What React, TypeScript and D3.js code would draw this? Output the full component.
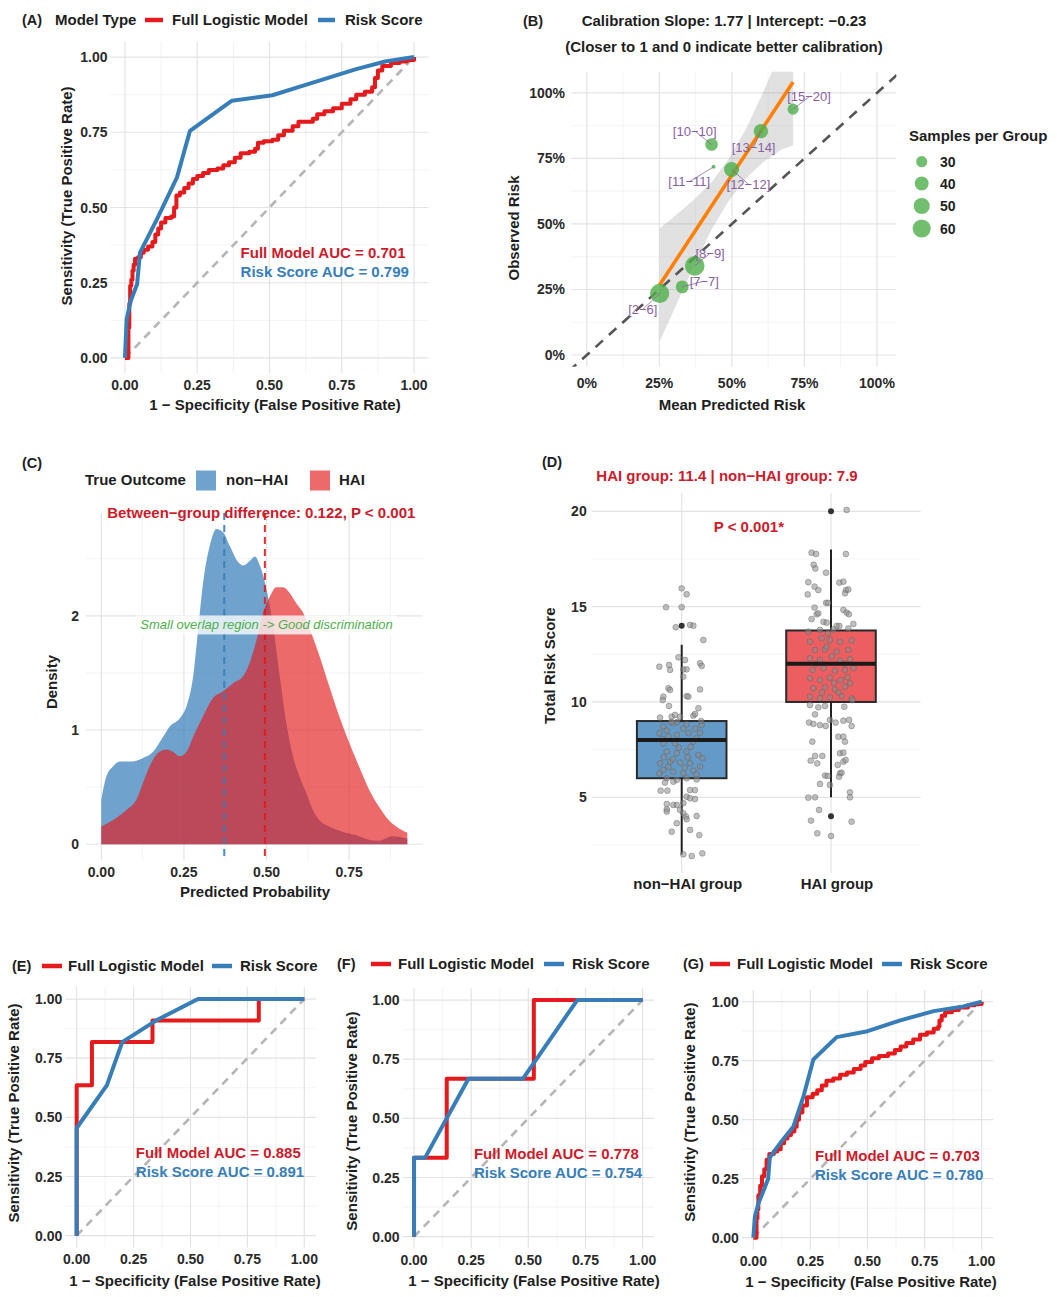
import React, { useEffect, useRef } from "react";
import * as d3 from "d3";

const FONT = "'Liberation Sans', Arial, Helvetica, sans-serif";
const RED = "#E41A1C";
const BLUE = "#377EB8";
const RED_TXT = "#CB1B2B";
const GREEN = "#4DAF4A";
const ORANGE = "#FF7F00";
const PURPLE = "#87619F";
const INK = "#1e1e1e";

// ---------- ROC axes ----------
const rocMajor = [0, 0.25, 0.5, 0.75, 1];
const rocMinor = [0.125, 0.375, 0.625, 0.875];
const rocTickLabels = ["0.00", "0.25", "0.50", "0.75", "1.00"];
const modelNames = ["Full Logistic Model", "Risk Score"];

// ---------- Panel A: training ROC ----------
const rocA_full: [number, number][] = [
  [0, 0], [0.012, 0], [0.012, 0.1], [0.015, 0.18], [0.018, 0.24], [0.022, 0.26], [0.026, 0.29], [0.03, 0.31],
  [0.035, 0.33], [0.045, 0.335], [0.055, 0.35], [0.065, 0.36], [0.08, 0.37], [0.095, 0.385], [0.105, 0.41],
  [0.115, 0.43], [0.125, 0.45], [0.14, 0.465], [0.16, 0.47], [0.17, 0.5], [0.178, 0.54], [0.19, 0.55],
  [0.205, 0.565], [0.22, 0.58], [0.235, 0.595], [0.25, 0.605], [0.27, 0.615], [0.29, 0.625], [0.32, 0.63],
  [0.34, 0.64], [0.36, 0.65], [0.38, 0.665], [0.4, 0.68], [0.43, 0.685], [0.45, 0.695], [0.46, 0.715],
  [0.48, 0.72], [0.51, 0.725], [0.53, 0.74], [0.55, 0.755], [0.58, 0.77], [0.6, 0.785], [0.63, 0.785],
  [0.65, 0.795], [0.665, 0.81], [0.69, 0.82], [0.72, 0.83], [0.75, 0.845], [0.78, 0.86], [0.8, 0.875],
  [0.83, 0.885], [0.855, 0.9], [0.865, 0.93], [0.875, 0.955], [0.89, 0.97], [0.92, 0.98], [0.95, 0.985],
  [0.975, 0.99], [1, 1],
];
const rocA_score: [number, number][] = [
  [0, 0], [0.006, 0.13], [0.02, 0.19], [0.042, 0.245], [0.052, 0.35], [0.11, 0.46], [0.18, 0.6],
  [0.225, 0.755], [0.37, 0.855], [0.51, 0.873], [0.6, 0.9], [0.7, 0.93], [0.8, 0.96], [0.9, 0.985], [1, 1],
];
const aucA = ["Full Model AUC = 0.701", "Risk Score AUC = 0.799"];

// ---------- Panel E ----------
const rocE_full: [number, number][] = [
  [0, 0], [0, 0.636], [0.067, 0.636], [0.067, 0.818], [0.333, 0.818], [0.333, 0.909], [0.8, 0.909], [0.8, 1], [1, 1],
];
const rocE_score: [number, number][] = [
  [0, 0], [0, 0.455], [0.133, 0.636], [0.2, 0.818], [0.35, 0.91], [0.533, 1], [1, 1],
];
const aucE = ["Full Model AUC = 0.885", "Risk Score AUC = 0.891"];

// ---------- Panel F ----------
const rocF_full: [number, number][] = [
  [0, 0], [0, 0.333], [0.143, 0.333], [0.143, 0.667], [0.524, 0.667], [0.524, 1], [1, 1],
];
const rocF_score: [number, number][] = [
  [0, 0], [0, 0.333], [0.048, 0.333], [0.238, 0.667], [0.476, 0.667], [0.714, 1], [1, 1],
];
const aucF = ["Full Model AUC = 0.778", "Risk Score AUC = 0.754"];

// ---------- Panel G ----------
const rocG_full: [number, number][] = [
  [0, 0], [0.012, 0], [0.014, 0.08], [0.018, 0.12], [0.022, 0.18], [0.03, 0.22], [0.038, 0.26], [0.048, 0.29],
  [0.058, 0.33], [0.07, 0.355], [0.09, 0.365], [0.105, 0.375], [0.12, 0.4], [0.135, 0.42], [0.15, 0.435],
  [0.165, 0.45], [0.18, 0.47], [0.19, 0.5], [0.2, 0.53], [0.215, 0.56], [0.235, 0.595], [0.26, 0.61],
  [0.28, 0.625], [0.3, 0.645], [0.32, 0.665], [0.35, 0.675], [0.38, 0.69], [0.41, 0.7], [0.44, 0.715],
  [0.47, 0.73], [0.49, 0.745], [0.52, 0.76], [0.55, 0.77], [0.59, 0.78], [0.62, 0.795], [0.645, 0.81],
  [0.67, 0.825], [0.7, 0.84], [0.73, 0.86], [0.76, 0.87], [0.79, 0.885], [0.81, 0.895], [0.815, 0.92],
  [0.825, 0.94], [0.84, 0.955], [0.87, 0.965], [0.9, 0.975], [0.94, 0.985], [0.97, 0.99], [1, 1],
];
const rocG_score: [number, number][] = [
  [0, 0], [0.007, 0.09], [0.022, 0.145], [0.045, 0.2], [0.065, 0.25], [0.072, 0.34], [0.117, 0.4],
  [0.175, 0.47], [0.22, 0.6], [0.263, 0.755], [0.365, 0.85], [0.5, 0.875], [0.64, 0.92], [0.79, 0.96],
  [0.92, 0.98], [1, 1],
];
const aucG = ["Full Model AUC = 0.703", "Risk Score AUC = 0.780"];

// ---------- Panel B: calibration ----------
const calibGroups = ["[2−6]", "[7−7]", "[8−9]", "[10−10]", "[11−11]", "[12−12]", "[13−14]", "[15−20]"];
const calibPred = [0.251, 0.329, 0.372, 0.43, 0.437, 0.499, 0.6, 0.711];
const calibObs = [0.235, 0.26, 0.34, 0.803, 0.718, 0.708, 0.854, 0.938];
const calibN = [66, 36, 68, 35, 14, 45, 42, 30];
const calibLabelX = [0.193, 0.405, 0.425, 0.372, 0.353, 0.557, 0.575, 0.766];
const calibLabelY = [0.174, 0.282, 0.388, 0.855, 0.661, 0.652, 0.794, 0.985];
const fitX = [0.251, 0.711];
const fitY = [0.267, 1.042];
const ribbonX = [0.251, 0.31, 0.37, 0.43, 0.49, 0.55, 0.61, 0.67, 0.711];
const ribbonLow = [0.051, 0.196, 0.343, 0.479, 0.59, 0.676, 0.737, 0.783, 0.8];
const ribbonHigh = [0.483, 0.536, 0.593, 0.659, 0.75, 0.866, 1.007, 1.163, 1.28];
const pctTicks = [0, 0.25, 0.5, 0.75, 1];
const pctLabels = ["0%", "25%", "50%", "75%", "100%"];
const sizeBreaks = [30, 40, 50, 60];

// ---------- Panel C: density ----------
const nonHaiDensity: [number, number][] = [
  [0, 0.39], [0.015, 0.59], [0.035, 0.68], [0.056, 0.725], [0.096, 0.725], [0.126, 0.755], [0.157, 0.81],
  [0.187, 0.94], [0.207, 1.03], [0.237, 1.1], [0.258, 1.21], [0.278, 1.47], [0.293, 1.88], [0.308, 2.29],
  [0.328, 2.61], [0.348, 2.76], [0.369, 2.73], [0.389, 2.61], [0.409, 2.49], [0.429, 2.44], [0.449, 2.48],
  [0.465, 2.52], [0.48, 2.44], [0.5, 2.23], [0.52, 1.91], [0.54, 1.47], [0.56, 1.06], [0.58, 0.77],
  [0.6, 0.59], [0.62, 0.45], [0.64, 0.3], [0.66, 0.21], [0.69, 0.155], [0.73, 0.11], [0.77, 0.08],
  [0.81, 0.04], [0.84, 0.03], [0.88, 0.07], [0.926, 0.05],
];
const haiDensity: [number, number][] = [
  [0, 0.155], [0.035, 0.21], [0.076, 0.3], [0.106, 0.39], [0.126, 0.535], [0.146, 0.68], [0.172, 0.8],
  [0.197, 0.83], [0.217, 0.81], [0.237, 0.77], [0.258, 0.81], [0.278, 0.94], [0.308, 1.12], [0.338, 1.28],
  [0.369, 1.34], [0.399, 1.41], [0.429, 1.47], [0.449, 1.59], [0.47, 1.79], [0.49, 2.03], [0.51, 2.17],
  [0.53, 2.25], [0.55, 2.25], [0.57, 2.2], [0.59, 2.11], [0.61, 2.03], [0.63, 1.89], [0.66, 1.65],
  [0.69, 1.38], [0.72, 1.12], [0.75, 0.89], [0.78, 0.68], [0.81, 0.48], [0.84, 0.33], [0.87, 0.21],
  [0.9, 0.14], [0.926, 0.1],
];
const outcomeNames = ["non−HAI", "HAI"];
const groupMeans = [0.372, 0.495];
const densXTicks = [0, 0.25, 0.5, 0.75];
const densXLabels = ["0.00", "0.25", "0.50", "0.75"];
const densYTicks = [0, 1, 2];

// ---------- Panel D: box plot ----------
const boxGroups = ["non−HAI group", "HAI group"];
const boxQ1 = [6, 10];
const boxMedian = [8, 12];
const boxQ3 = [9, 13.75];
const whiskerLow = [2, 5];
const whiskerHigh = [13, 18];
const boxOutliers = [[14], [20, 4]];
const scoreTicks = [5, 10, 15, 20];
// [x jitter offset (category units), score]
const nonHaiPoints: [number, number][] = [
  [0, 15.96], [0.033, 15.65], [-0.105, 14.97], [0, 14.97], [-0.04, 13.92], [0.056, 14.04], [0.078, 14.0],
  [0.145, 13.25], [-0.15, 11.85], [-0.085, 11.94], [-0.078, 11.68], [-0.022, 12.34], [0.022, 12.2],
  [0.011, 11.71], [0.033, 11.71], [0.123, 12.03], [0.134, 11.89], [0.011, 11.33], [-0.089, 10.72],
  [-0.078, 10.63], [-0.123, 10.28], [-0.127, 10.1], [0.033, 10.31], [0.045, 10.28], [0.123, 10.66],
  [-0.085, 9.79], [0.112, 9.67], [-0.145, 9.18], [-0.067, 9.23], [-0.045, 9.32], [-0.011, 9.23], [0.078, 9.28],
  [0.089, 9.37], [-0.123, 8.71], [-0.056, 8.88], [0.033, 8.83], [0.134, 8.79], [-0.15, 8.36], [-0.089, 8.18],
  [-0.033, 8.27], [0.045, 8.36], [0.123, 8.39], [-0.123, 7.83], [-0.045, 7.83], [0.078, 7.92], [-0.1, 7.4],
  [-0.033, 7.31], [0.033, 7.4], [0.112, 7.22], [-0.145, 6.78], [-0.078, 6.87], [-0.011, 6.82], [0.056, 6.78],
  [0.123, 6.61], [-0.123, 6.43], [-0.056, 6.35], [0.011, 6.26], [0.078, 6.4], [-0.1, 6.0], [-0.033, 5.91],
  [0.033, 6.0], [0.1, 5.94], [-0.112, 5.77], [-0.056, 5.82], [-0.141, 5.35], [-0.096, 5.35], [0.056, 5.38],
  [0.089, 5.38], [0.033, 5.03], [0.056, 4.95], [0.089, 4.91], [-0.1, 4.65], [-0.056, 4.6], [-0.033, 4.6],
  [0.011, 4.69], [-0.1, 4.37], [-0.1, 4.25], [-0.011, 4.34], [0.011, 4.16], [0.029, 3.99], [0.033, 3.85],
  [0.1, 4.02], [-0.033, 3.64], [-0.067, 3.2], [0.056, 3.29], [0.118, 3.02], [0.011, 2.01], [0.067, 1.92],
  [0.138, 2.06], [-0.07, 8.95], [0.09, 8.6], [-0.13, 8.05], [0.01, 8.6], [0.1, 8.1], [-0.02, 7.6],
  [0.06, 7.65], [-0.12, 7.1], [0.14, 7.05], [-0.06, 7.0], [0.02, 6.55], [-0.09, 6.6], [0.1, 6.2],
  [-0.15, 6.25], [0.04, 7.1], [-0.03, 8.95], [0.13, 9.0], [-0.1, 8.5],
];
const haiPoints: [number, number][] = [
  [0.105, 20.07], [-0.13, 17.83], [-0.1, 17.76], [0.1, 17.76], [-0.116, 17.2], [-0.105, 17.0], [-0.033, 16.78],
  [-0.152, 16.28], [0.056, 16.26], [0.083, 16.31], [-0.11, 16.05], [-0.085, 15.87], [-0.156, 15.64],
  [0.1, 15.87], [0.094, 15.7], [0.116, 15.9], [-0.033, 15.2], [-0.02, 15.2], [-0.11, 14.95], [-0.096, 14.6],
  [-0.085, 14.65], [0.083, 14.83], [0.105, 14.69], [0.12, 14.6], [-0.13, 14.35], [-0.05, 14.2],
  [-0.029, 14.16], [0.038, 13.99], [0.056, 13.99], [0.15, 14.09], [0.116, 13.86], [-0.152, 13.69],
  [-0.074, 13.78], [0.016, 13.81], [-0.141, 13.16], [-0.062, 13.34], [-0.007, 13.25], [0.06, 13.16],
  [0.138, 13.22], [-0.107, 12.73], [-0.04, 12.76], [0.038, 12.64], [0.116, 12.73], [-0.141, 12.29],
  [-0.074, 12.2], [0.004, 12.38], [0.06, 12.17], [0.127, 12.24], [-0.123, 11.68], [-0.051, 11.77],
  [0.027, 11.64], [0.094, 11.68], [0.15, 11.77], [-0.141, 11.24], [-0.074, 11.15], [-0.007, 11.28],
  [0.065, 11.15], [0.127, 10.98], [-0.118, 10.72], [-0.04, 10.77], [0.027, 10.66], [0.094, 10.8],
  [-0.141, 10.28], [-0.074, 10.19], [-0.007, 10.24], [0.071, 10.31], [0.138, 10.19], [-0.02, 13.6],
  [0.09, 12.0], [-0.1, 12.0], [0.02, 11.0], [-0.03, 12.9], [0.11, 11.3], [-0.06, 10.5], [0.05, 10.5],
  [-0.141, 9.84], [-0.085, 9.72], [-0.04, 9.79], [0.089, 9.75], [0.143, 10.1], [-0.107, 9.35],
  [-0.147, 8.92], [-0.118, 8.85], [-0.074, 8.79], [-0.036, 8.74], [-0.007, 9.06], [0.031, 8.92],
  [0.083, 9.02], [0.121, 9.06], [0.138, 8.74], [-0.125, 7.92], [0.049, 8.18], [0.083, 8.18], [0.094, 7.92],
  [-0.107, 7.17], [-0.058, 7.17], [-0.136, 6.92], [-0.092, 6.78], [0.06, 7.31], [0.083, 7.34],
  [0.083, 6.87], [0.098, 6.96], [0.045, 6.7], [0.06, 6.26], [0.071, 6.29], [-0.04, 6.14], [-0.022, 6.12],
  [0.054, 6.08], [-0.074, 5.7], [-0.007, 5.65], [-0.152, 4.98], [-0.107, 5.0], [0.127, 5.26], [0.127, 5.0],
  [-0.08, 4.34], [-0.134, 3.78], [0.138, 3.72], [-0.092, 3.11], [0, 2.97],
];

type G = d3.Selection<SVGGElement, unknown, null, undefined>;
type TOpt = { size?: number; weight?: string; fill?: string; anchor?: string; rotate?: number; italic?: boolean };

function addText(g: G, x: number, y: number, s: string, o: TOpt = {}) {
  const t = g.append("text").attr("x", x).attr("y", y).text(s)
    .attr("font-family", FONT)
    .attr("font-size", o.size ?? 14)
    .attr("font-weight", o.weight ?? "bold")
    .attr("fill", o.fill ?? INK)
    .attr("text-anchor", o.anchor ?? "start");
  if (o.italic) t.attr("font-style", "italic");
  if (o.rotate) t.attr("transform", `rotate(${o.rotate},${x},${y})`);
  return t;
}

function drawGrid(g: G, x: any, y: any, xMajor: number[], xMinor: number[], yMajor: number[], yMinor: number[]) {
  const [xa, xb] = x.range();
  const [ya, yb] = y.range();
  const minor = g.append("g").attr("stroke", "#f0f0f0").attr("stroke-width", 0.8);
  xMinor.forEach(v => minor.append("line").attr("x1", x(v)).attr("x2", x(v)).attr("y1", ya).attr("y2", yb));
  yMinor.forEach(v => minor.append("line").attr("x1", xa).attr("x2", xb).attr("y1", y(v)).attr("y2", y(v)));
  const major = g.append("g").attr("stroke", "#e3e3e3").attr("stroke-width", 1.2);
  xMajor.forEach(v => major.append("line").attr("x1", x(v)).attr("x2", x(v)).attr("y1", ya).attr("y2", yb));
  yMajor.forEach(v => major.append("line").attr("x1", xa).attr("x2", xb).attr("y1", y(v)).attr("y2", y(v)));
}

interface RocCfg {
  tag: string; tagX: number; legendY: number; modelTypeX?: number;
  redKey: [number, number]; redText: number; blueKey: [number, number]; blueText: number;
  left: number; right: number; top: number; bottom: number;
  full: [number, number][]; score: [number, number][]; fullStep: boolean;
  auc: string[]; aucAt: [number, number]; aucGap: number;
  yTitleX: number; yTitleY: number; xTitleX: number; xTitleY: number;
}

function drawRoc(root: G, c: RocCfg) {
  const g = root.append("g");
  const x = d3.scaleLinear().domain([-0.05, 1.05]).range([c.left, c.right]);
  const y = d3.scaleLinear().domain([-0.05, 1.05]).range([c.bottom, c.top]);
  drawGrid(g, x, y, rocMajor, rocMinor, rocMajor, rocMinor);

  g.append("line").attr("x1", x(0)).attr("y1", y(0)).attr("x2", x(1)).attr("y2", y(1))
    .attr("stroke", "#b5b5b5").attr("stroke-width", 2.6).attr("stroke-dasharray", "8 6");

  const redLine = d3.line<[number, number]>().x(d => x(d[0])).y(d => y(d[1]))
    .curve(c.fullStep ? d3.curveStepAfter : d3.curveLinear);
  const blueLine = d3.line<[number, number]>().x(d => x(d[0])).y(d => y(d[1]));
  g.append("path").attr("d", redLine(c.full)).attr("fill", "none").attr("stroke", RED)
    .attr("stroke-width", 4).attr("stroke-linejoin", "round");
  g.append("path").attr("d", blueLine(c.score)).attr("fill", "none").attr("stroke", BLUE)
    .attr("stroke-width", 4).attr("stroke-linejoin", "round");

  rocMajor.forEach((v, i) => {
    addText(g, x(v), c.bottom + 16.5, rocTickLabels[i], { anchor: "middle", fill: "#2a2a2a" });
    addText(g, c.left - 3, y(v) + 5, rocTickLabels[i], { anchor: "end", fill: "#2a2a2a" });
  });
  addText(g, c.xTitleX, c.xTitleY, "1 − Specificity (False Positive Rate)", { anchor: "middle", size: 15 });
  addText(g, c.yTitleX + 5.4, c.yTitleY, "Sensitivity (True Positive Rate)", { anchor: "middle", size: 15, rotate: -90 });

  // AUC annotation
  const ax = x(c.aucAt[0]);
  const ay = y(c.aucAt[1]) + 5.4;
  addText(g, ax, ay, c.auc[0], { size: 15, fill: RED_TXT });
  addText(g, ax, ay + c.aucGap, c.auc[1], { size: 15, fill: BLUE });

  // tag + legend
  const ly = c.legendY + 5.3;
  addText(g, c.tagX, ly, c.tag, { size: 14.5 });
  if (c.modelTypeX !== undefined) addText(g, c.modelTypeX, ly, "Model Type", { size: 15 });
  g.append("line").attr("x1", c.redKey[0]).attr("x2", c.redKey[1]).attr("y1", c.legendY).attr("y2", c.legendY)
    .attr("stroke", RED).attr("stroke-width", 4.5);
  addText(g, c.redText, ly, modelNames[0], { size: 15 });
  g.append("line").attr("x1", c.blueKey[0]).attr("x2", c.blueKey[1]).attr("y1", c.legendY).attr("y2", c.legendY)
    .attr("stroke", BLUE).attr("stroke-width", 4.5);
  addText(g, c.blueText, ly, modelNames[1], { size: 15 });
}

function drawCalibration(root: G) {
  const g = root.append("g");
  const left = 571.4, right = 896.4, top = 71.7, bottom = 366.8;
  const x = d3.scaleLinear().domain([-0.053, 1.067]).range([left, right]);
  const y = d3.scaleLinear().domain([-0.045, 1.081]).range([bottom, top]);
  const minor = [0.125, 0.375, 0.625, 0.875];
  drawGrid(g, x, y, pctTicks, minor, pctTicks, minor);

  g.append("clipPath").attr("id", "clipB").append("rect")
    .attr("x", left).attr("y", top).attr("width", right - left).attr("height", bottom - top);
  const pg = g.append("g").attr("clip-path", "url(#clipB)");

  const band = d3.area<number>().x(d => x(d)).y0((_, i) => y(ribbonLow[i])).y1((_, i) => y(ribbonHigh[i]));
  pg.append("path").attr("d", band(ribbonX)).attr("fill", "#9a9a9a").attr("fill-opacity", 0.3);

  pg.append("line").attr("x1", x(-0.2)).attr("y1", y(-0.2)).attr("x2", x(1.3)).attr("y2", y(1.3))
    .attr("stroke", "#555").attr("stroke-width", 2.6).attr("stroke-dasharray", "10 8");

  pg.append("line").attr("x1", x(fitX[0])).attr("y1", y(fitY[0])).attr("x2", x(fitX[1])).attr("y2", y(fitY[1]))
    .attr("stroke", ORANGE).attr("stroke-width", 3.6);

  const area = d3.scaleLinear().domain([14, 68]).range([4, 95.6]);
  const r = (n: number) => Math.sqrt(area(n));

  calibGroups.forEach((_, i) => {
    pg.append("circle").attr("cx", x(calibPred[i])).attr("cy", y(calibObs[i])).attr("r", r(calibN[i]))
      .attr("fill", GREEN).attr("fill-opacity", 0.8);
  });
  calibGroups.forEach((lab, i) => {
    g.append("line").attr("x1", x(calibLabelX[i])).attr("y1", y(calibLabelY[i]))
      .attr("x2", x(calibPred[i])).attr("y2", y(calibObs[i]))
      .attr("stroke", PURPLE).attr("stroke-opacity", 0.75).attr("stroke-width", 1);
    addText(g, x(calibLabelX[i]), y(calibLabelY[i]) + 4.6, lab, { size: 13, weight: "normal", fill: PURPLE, anchor: "middle" });
  });

  pctTicks.forEach((v, i) => {
    addText(g, x(v), 388, pctLabels[i], { anchor: "middle", fill: "#2a2a2a" });
    addText(g, 565, y(v) + 5, pctLabels[i], { anchor: "end", fill: "#2a2a2a" });
  });
  addText(g, 732, 409.5, "Mean Predicted Risk", { anchor: "middle", size: 15 });
  addText(g, 514 + 5.4, 228, "Observed Risk", { anchor: "middle", size: 15, rotate: -90 });

  addText(g, 523, 25.5, "(B)", { size: 14.5 });
  addText(g, 724, 25.5, "Calibration Slope: 1.77 | Intercept: −0.23", { anchor: "middle", size: 15 });
  addText(g, 724, 51.5, "(Closer to 1 and 0 indicate better calibration)", { anchor: "middle", size: 15 });

  // size legend
  addText(g, 909, 140.5, "Samples per Group", { size: 15 });
  const legY = [161.7, 183.5, 206, 228.5];
  sizeBreaks.forEach((n, i) => {
    g.append("circle").attr("cx", 921.7).attr("cy", legY[i]).attr("r", r(n)).attr("fill", GREEN).attr("fill-opacity", 0.8);
    addText(g, 940, legY[i] + 5, String(n), { size: 14 });
  });
}

function drawDensity(root: G) {
  const g = root.append("g");
  const left = 86, right = 422.7, top = 513, bottom = 860;
  const x = d3.scaleLinear().domain([-0.0463, 0.9725]).range([left, right]);
  const y = d3.scaleLinear().domain([-0.138, 2.9]).range([bottom, top]);
  drawGrid(g, x, y, densXTicks, [0.125, 0.375, 0.625, 0.875], densYTicks, [0.5, 1.5, 2.5]);

  const area = d3.area<[number, number]>().x(d => x(d[0])).y0(y(0)).y1(d => y(d[1])).curve(d3.curveMonotoneX);
  g.append("path").attr("d", area(nonHaiDensity)).attr("fill", BLUE).attr("fill-opacity", 0.72);
  g.append("path").attr("d", area(haiDensity)).attr("fill", RED).attr("fill-opacity", 0.65);

  [BLUE, RED].forEach((col, i) => {
    g.append("line").attr("x1", x(groupMeans[i])).attr("x2", x(groupMeans[i])).attr("y1", top).attr("y2", bottom)
      .attr("stroke", col).attr("stroke-width", 2).attr("stroke-dasharray", "7 5").attr("stroke-opacity", 0.9);
  });

  // annotation with light label box
  const lg = g.append("g");
  const box = lg.append("rect");
  const t = addText(lg, x(0.5), y(1.92) + 4.5, "Small overlap region -> Good discrimination",
    { size: 13, weight: "normal", italic: true, fill: GREEN, anchor: "middle" });
  const bb = (t.node() as SVGTextElement).getBBox();
  box.attr("x", bb.x - 4).attr("y", bb.y - 2).attr("width", bb.width + 8).attr("height", bb.height + 4)
    .attr("fill", "#fff").attr("fill-opacity", 0.78);

  addText(g, x(0.484), y(2.9) + 5.4, "Between−group difference: 0.122, P < 0.001", { anchor: "middle", size: 15, fill: RED_TXT });

  densXTicks.forEach((v, i) => addText(g, x(v), 877, densXLabels[i], { anchor: "middle", fill: "#2a2a2a" }));
  densYTicks.forEach(v => addText(g, 79, y(v) + 5, String(v), { anchor: "end", fill: "#2a2a2a" }));
  addText(g, 255, 897, "Predicted Probability", { anchor: "middle", size: 15 });
  addText(g, 51.7 + 5.4, 682, "Density", { anchor: "middle", size: 15, rotate: -90 });

  addText(g, 22, 467.5, "(C)", { size: 14.5 });
  addText(g, 85, 485.4, "True Outcome", { size: 15 });
  g.append("rect").attr("x", 196).attr("y", 470.5).attr("width", 20).attr("height", 20).attr("fill", BLUE).attr("fill-opacity", 0.72);
  addText(g, 226, 485.4, outcomeNames[0], { size: 15 });
  g.append("rect").attr("x", 310).attr("y", 470.5).attr("width", 20).attr("height", 20).attr("fill", RED).attr("fill-opacity", 0.65);
  addText(g, 339, 485.4, outcomeNames[1], { size: 15 });
}

function drawBoxes(root: G) {
  const g = root.append("g");
  const left = 592, right = 920.6, top = 493, bottom = 873;
  const x = d3.scalePoint<string>().domain(boxGroups).range([681.7, 831]);
  const unit = 149.3;
  const y = d3.scaleLinear().domain([1.03, 20.96]).range([bottom, top]);
  const xl = { range: () => [left, right] } as any;
  drawGrid(g, xl, y, [], [], scoreTicks, [2.5, 7.5, 12.5, 17.5]);
  boxGroups.forEach(gr => g.append("line").attr("x1", x(gr)!).attr("x2", x(gr)!).attr("y1", top).attr("y2", bottom)
    .attr("stroke", "#e3e3e3").attr("stroke-width", 1.2));

  const fills = [BLUE, RED];
  const half = 0.3 * unit;
  boxGroups.forEach((gr, i) => {
    const cx = x(gr)!;
    g.append("line").attr("x1", cx).attr("x2", cx).attr("y1", y(whiskerHigh[i])).attr("y2", y(boxQ3[i]))
      .attr("stroke", "#222").attr("stroke-width", 2);
    g.append("line").attr("x1", cx).attr("x2", cx).attr("y1", y(boxQ1[i])).attr("y2", y(whiskerLow[i]))
      .attr("stroke", "#222").attr("stroke-width", 2);
    g.append("rect").attr("x", cx - half).attr("y", y(boxQ3[i])).attr("width", 2 * half)
      .attr("height", y(boxQ1[i]) - y(boxQ3[i]))
      .attr("fill", "#fff").attr("stroke", "none");
    g.append("rect").attr("x", cx - half).attr("y", y(boxQ3[i])).attr("width", 2 * half)
      .attr("height", y(boxQ1[i]) - y(boxQ3[i]))
      .attr("fill", fills[i]).attr("fill-opacity", i === 0 ? 0.78 : 0.7).attr("stroke", "#2a2a2a").attr("stroke-width", 2);
    boxOutliers[i].forEach(v => g.append("circle").attr("cx", cx).attr("cy", y(v)).attr("r", 3).attr("fill", "#333"));
  });

  const pts = [nonHaiPoints, haiPoints];
  boxGroups.forEach((gr, i) => {
    const cx = x(gr)!;
    pts[i].forEach(([dx, v]) => {
      g.append("circle").attr("cx", cx + dx * unit).attr("cy", y(v)).attr("r", 2.9)
        .attr("fill", "#8c8c8c").attr("fill-opacity", 0.55)
        .attr("stroke", "#5e5e5e").attr("stroke-opacity", 0.6).attr("stroke-width", 0.7);
    });
  });
  boxGroups.forEach((gr, i) => {
    const cx = x(gr)!;
    g.append("line").attr("x1", cx - half).attr("x2", cx + half).attr("y1", y(boxMedian[i])).attr("y2", y(boxMedian[i]))
      .attr("stroke", "#1a1a1a").attr("stroke-width", 4);
  });

  scoreTicks.forEach(v => addText(g, 586.7, y(v) + 5, String(v), { anchor: "end", fill: "#2a2a2a" }));
  boxGroups.forEach(gr => addText(g, x(gr)! + 6, 889, gr, { anchor: "middle", size: 15 }));
  addText(g, 550 + 5.4, 665.7, "Total Risk Score", { anchor: "middle", size: 15, rotate: -90 });

  addText(g, 542, 467, "(D)", { size: 14.5 });
  addText(g, 727, 481, "HAI group: 11.4 | non−HAI group: 7.9", { anchor: "middle", size: 15, fill: RED_TXT });
  addText(g, x(boxGroups[0])! + 0.45 * unit, y(19.2) + 5.4, "P < 0.001*", { anchor: "middle", size: 15, fill: RED_TXT });
}

const panelA: RocCfg = {
  tag: "(A)", tagX: 22, legendY: 20, modelTypeX: 55,
  redKey: [145, 163], redText: 172, blueKey: [318, 335], blueText: 345,
  left: 110.5, right: 428.5, top: 42, bottom: 373,
  full: rocA_full, score: rocA_score, fullStep: true,
  auc: aucA, aucAt: [0.4, 0.35], aucGap: 18.5,
  yTitleX: 67, yTitleY: 196, xTitleX: 275, xTitleY: 409.5,
};
const panelE: RocCfg = {
  tag: "(E)", tagX: 12, legendY: 966,
  redKey: [42, 62], redText: 68, blueKey: [212, 232], blueText: 240,
  left: 65.3, right: 315.7, top: 987.2, bottom: 1247.5,
  full: rocE_full, score: rocE_score, fullStep: false,
  auc: aucE, aucAt: [0.26, 0.35], aucGap: 19,
  yTitleX: 13.3, yTitleY: 1113, xTitleX: 195, xTitleY: 1285.5,
};
const panelF: RocCfg = {
  tag: "(F)", tagX: 337, legendY: 964,
  redKey: [371, 391], redText: 398, blueKey: [544, 564], blueText: 572,
  left: 402.6, right: 654.1, top: 988.2, bottom: 1248.5,
  full: rocF_full, score: rocF_score, fullStep: false,
  auc: aucF, aucAt: [0.262, 0.35], aucGap: 19,
  yTitleX: 351.7, yTitleY: 1121, xTitleX: 534, xTitleY: 1285.5,
};
const panelG: RocCfg = {
  tag: "(G)", tagX: 683, legendY: 964,
  redKey: [710, 730], redText: 737, blueKey: [882, 902], blueText: 910,
  left: 741.9, right: 993.1, top: 989.9, bottom: 1249.5,
  full: rocG_full, score: rocG_score, fullStep: true,
  auc: aucG, aucAt: [0.27, 0.35], aucGap: 19,
  yTitleX: 690, yTitleY: 1112, xTitleX: 871, xTitleY: 1287,
};

export default function App() {
  const ref = useRef<SVGSVGElement>(null);

  useEffect(() => {
    const svg = d3.select(ref.current);
    svg.selectAll("*").remove();
    const root = svg.append("g") as unknown as G;
    drawRoc(root, panelA);
    drawCalibration(root);
    drawDensity(root);
    drawBoxes(root);
    drawRoc(root, panelE);
    drawRoc(root, panelF);
    drawRoc(root, panelG);
  }, []);

  return (
    <svg ref={ref} width={1057} height={1297}
      style={{ position: "absolute", left: 0, top: 0, background: "#fff", display: "block" }} />
  );
}
